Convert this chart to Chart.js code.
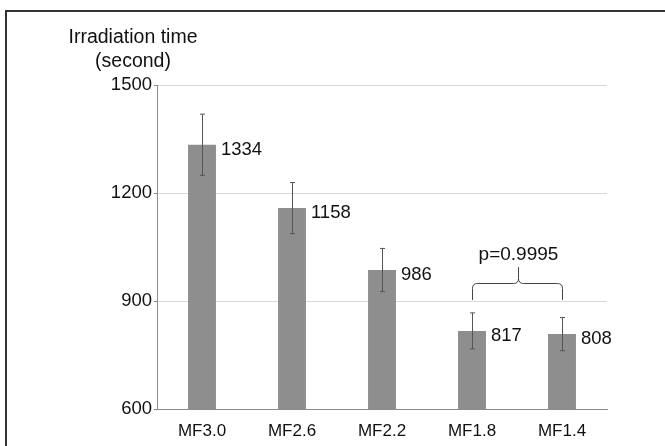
<!DOCTYPE html>
<html>
<head>
<meta charset="utf-8">
<script src="https://cdn.jsdelivr.net/npm/chart.js@4"></script>
<style>
  html, body { margin: 0; padding: 0; background: #fff; overflow: hidden; }
  #wrap { position: relative; width: 665px; height: 446px; }
  #frame { position: absolute; left: 5px; top: 10px; width: 680px; height: 460px;
           border: 2px solid #333; box-sizing: border-box; pointer-events: none; }
  canvas { position: absolute; left: 0; top: 0; }
</style>
</head>
<body>
<div id="wrap">
  <canvas id="chart" width="665" height="446"></canvas>
  <div id="frame"></div>
</div>
<script>
// irradiation time by MF setting
const categories = ["MF3.0", "MF2.6", "MF2.2", "MF1.8", "MF1.4"];
const means = [1334, 1158, 986, 817, 808];
const errors = [85, 71, 60, 50, 46];
const yTicks = [600, 900, 1200, 1500];
const yTitle = ["Irradiation time", "(second)"];
// bracket between MF1.8 and MF1.4: base, level, tip, label value
const bracketIdx = [3, 4];
const bracketLevels = [903, 950, 994, 1028];
const bracketLabel = "p=0.9995";

const FONT = "'Liberation Sans', Arial, sans-serif";
const TEXT = "#111";

const errorBars = {
  id: "errorBars",
  afterDatasetsDraw(chart) {
    const { ctx, scales: { y } } = chart;
    const meta = chart.getDatasetMeta(0);
    ctx.save();
    ctx.strokeStyle = "#555";
    ctx.lineWidth = 1;
    meta.data.forEach((bar, i) => {
      const x = Math.round(bar.x) + 0.5;
      const top = y.getPixelForValue(means[i] + errors[i]);
      const bot = y.getPixelForValue(means[i] - errors[i]);
      ctx.beginPath();
      ctx.moveTo(x, top); ctx.lineTo(x, bot);
      ctx.moveTo(x - 2.5, top); ctx.lineTo(x + 2.5, top);
      ctx.moveTo(x - 2.5, bot); ctx.lineTo(x + 2.5, bot);
      ctx.stroke();
    });
    ctx.restore();
  },
};

const valueLabels = {
  id: "valueLabels",
  afterDatasetsDraw(chart) {
    const { ctx } = chart;
    const meta = chart.getDatasetMeta(0);
    ctx.save();
    ctx.font = "18.5px " + FONT;
    ctx.fillStyle = TEXT;
    ctx.textAlign = "left";
    ctx.textBaseline = "middle";
    meta.data.forEach((bar, i) => {
      ctx.fillText(String(means[i]), bar.x + bar.width / 2 + 5, bar.y + 5);
    });
    ctx.restore();
  },
};

const bracket = {
  id: "bracket",
  afterDatasetsDraw(chart) {
    const { ctx, scales: { y } } = chart;
    const meta = chart.getDatasetMeta(0);
    const x1 = Math.round(meta.data[bracketIdx[0]].x) + 0.5;
    const x2 = Math.round(meta.data[bracketIdx[1]].x) + 0.5;
    const xm = Math.round((x1 + x2) / 2) + 0.5;
    const yb = y.getPixelForValue(bracketLevels[0]);
    const yl = Math.round(y.getPixelForValue(bracketLevels[1])) + 0.5;
    const yt = y.getPixelForValue(bracketLevels[2]);
    const r = 5;
    ctx.save();
    ctx.strokeStyle = "#444";
    ctx.lineWidth = 1;
    ctx.beginPath();
    ctx.moveTo(x1, yb);
    ctx.lineTo(x1, yl + r);
    ctx.quadraticCurveTo(x1, yl, x1 + r, yl);
    ctx.lineTo(xm - r, yl);
    ctx.quadraticCurveTo(xm, yl, xm, yl - r);
    ctx.lineTo(xm, yt);
    ctx.moveTo(xm, yl - r);
    ctx.quadraticCurveTo(xm, yl, xm + r, yl);
    ctx.lineTo(x2 - r, yl);
    ctx.quadraticCurveTo(x2, yl, x2, yl + r);
    ctx.lineTo(x2, yb);
    ctx.stroke();
    ctx.font = "19px " + FONT;
    ctx.fillStyle = TEXT;
    ctx.textAlign = "center";
    ctx.textBaseline = "middle";
    ctx.fillText(bracketLabel, xm, y.getPixelForValue(bracketLevels[3]));
    ctx.restore();
  },
};

const axisTitle = {
  id: "axisTitle",
  afterDraw(chart) {
    const { ctx, chartArea } = chart;
    ctx.save();
    ctx.font = "19.5px " + FONT;
    ctx.fillStyle = TEXT;
    ctx.textAlign = "center";
    ctx.textBaseline = "middle";
    const cx = chartArea.left - 24;
    ctx.fillText(yTitle[0], cx, 38);
    ctx.fillText(yTitle[1], cx, 62);
    ctx.restore();
  },
};

new Chart(document.getElementById("chart"), {
  type: "bar",
  data: {
    labels: categories,
    datasets: [{
      data: means,
      backgroundColor: "#8e8e8e",
      borderWidth: 0,
      barPercentage: 0.31,
      categoryPercentage: 1,
    }],
  },
  options: {
    responsive: false,
    animation: false,
    layout: { padding: { left: 0, right: 58, top: 85, bottom: 0 } },
    plugins: { legend: { display: false }, tooltip: { enabled: false } },
    scales: {
      x: {
        grid: { display: false },
        border: { display: true, color: "#8a8a8a", width: 1 },
        ticks: { color: TEXT, font: { size: 17, family: FONT }, padding: 4 },
        afterFit(scale) { scale.height = 37; },
      },
      y: {
        min: 600,
        max: 1500,
        afterBuildTicks(scale) { scale.ticks = yTicks.map((v) => ({ value: v })); },
        grid: {
          color: (c) => (c.tick && c.tick.value === 600 ? "rgba(0,0,0,0)" : "#d9d9d9"),
          tickColor: "#8a8a8a",
          tickLength: 3,
        },
        border: { display: true, color: "#8a8a8a", width: 1 },
        ticks: {
          color: TEXT,
          font: { size: 18.5, family: FONT },
          padding: 2,
          callback: (v) => String(v),
        },
        afterFit(scale) { scale.width = 157; },
      },
    },
  },
  plugins: [errorBars, valueLabels, bracket, axisTitle],
});
</script>
</body>
</html>
